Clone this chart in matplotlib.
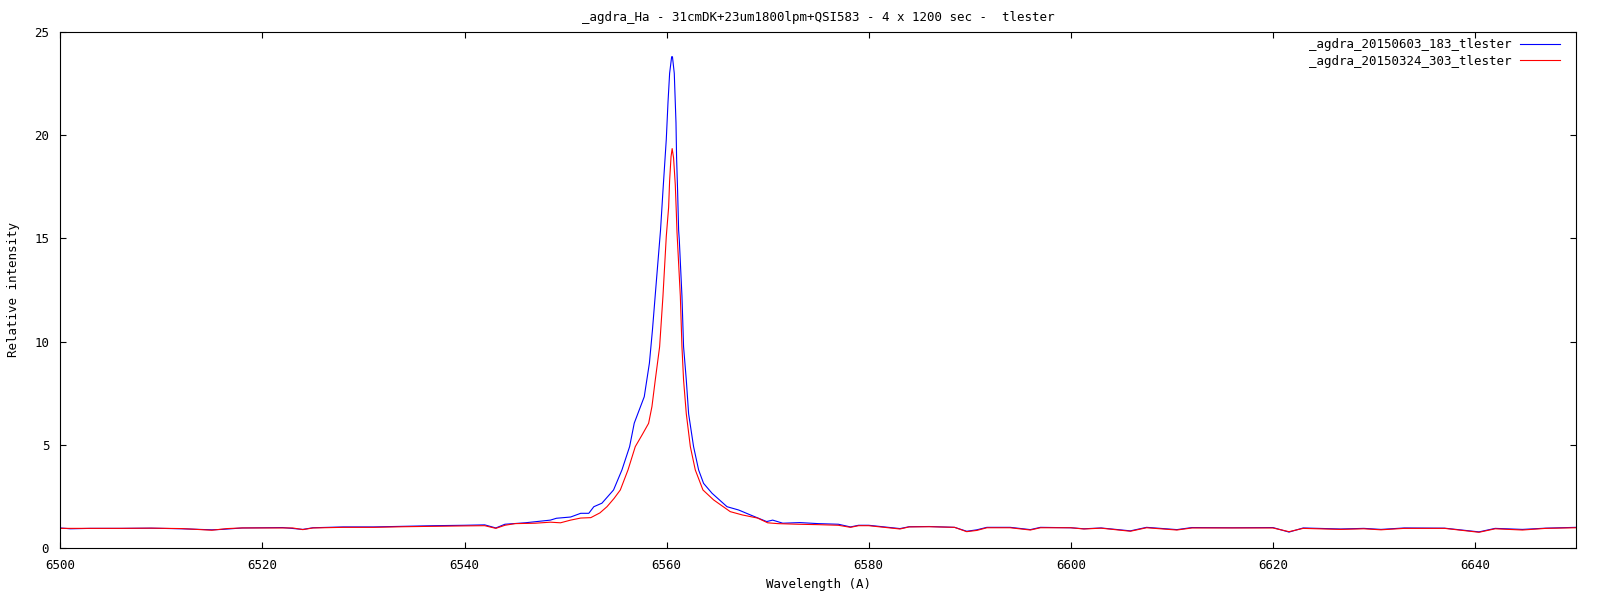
import numpy as np
import matplotlib
matplotlib.use("Agg")
import matplotlib.pyplot as plt

# spectrum 1 (blue) : _agdra_20150603_183_tlester
wl_blue = [6500, 6501, 6503, 6506, 6509, 6512, 6515, 6516, 6518, 6520, 6522, 6524, 6525,
           6528, 6531, 6534, 6537, 6540, 6542, 6543.1, 6544, 6546, 6548.5, 6549.1, 6550.5,
           6551.5, 6552.3, 6552.8, 6553.6, 6554.75, 6555.58, 6556.34, 6556.8, 6557.79,
           6558.3, 6558.6, 6559.0, 6559.4, 6559.64, 6559.97, 6560.14, 6560.30, 6560.5,
           6560.58, 6560.76, 6560.93, 6560.99, 6561.09, 6561.19, 6561.26, 6561.52, 6561.68,
           6561.95, 6562.18, 6562.67, 6563.17, 6563.66, 6564.5, 6565.98, 6567.13, 6568.3,
           6569.9, 6570.5, 6571.5, 6573.2, 6575, 6577, 6578.2, 6579, 6580, 6583.1, 6584,
           6586, 6588.5, 6589.7, 6590.7, 6591.7, 6594, 6596, 6597, 6600, 6601.3, 6603,
           6605.9, 6607.5, 6610.5, 6612, 6616, 6620, 6621.6, 6623, 6626.7, 6629, 6630.7,
           6633, 6637, 6640.4, 6642, 6644.7, 6647, 6650]
flux_blue = [0.97, 0.93, 0.95, 0.95, 0.96, 0.93, 0.88, 0.90, 0.97, 0.98, 0.99, 0.90, 0.98,
             1.02, 1.02, 1.05, 1.08, 1.10, 1.12, 0.97, 1.15, 1.22, 1.35, 1.44, 1.50,
             1.68, 1.68, 2.00, 2.17, 2.81, 3.78, 4.91, 6.05, 7.33,
             8.96, 10.56, 13.0, 15.4, 17.3, 19.8, 21.6, 23.0, 23.8,
             23.8, 23.0, 20.6, 18.9, 17.3, 15.4, 14.9, 12.2, 9.75,
             8.14, 6.5, 4.91, 3.78, 3.13, 2.65, 2.00, 1.84, 1.60,
             1.28, 1.35, 1.20, 1.23, 1.18, 1.15, 1.02, 1.10, 1.10, 0.94, 1.03,
             1.04, 1.00, 0.81, 0.88, 1.00, 1.00, 0.89, 1.00, 0.98, 0.93, 0.97,
             0.83, 1.00, 0.89, 0.99, 0.98, 0.99, 0.77, 0.97, 0.92, 0.95, 0.90,
             0.97, 0.96, 0.78, 0.95, 0.90, 0.96, 1.00]

# spectrum 2 (red) : _agdra_20150324_303_tlester
wl_red = [6500, 6503, 6506, 6509, 6512, 6515, 6516.5, 6518, 6520, 6523, 6524, 6525, 6528,
          6531, 6534, 6537, 6540, 6542, 6543.1, 6544, 6545, 6547, 6548.5, 6549.5, 6550.5,
          6551.5, 6552.5, 6553.4, 6554.1, 6554.8, 6555.42, 6556.18, 6556.9, 6557.6,
          6558.22, 6558.55, 6558.88, 6559.31, 6559.64, 6559.97, 6560.2, 6560.3, 6560.44,
          6560.55, 6560.69, 6560.86, 6560.96, 6561.03, 6561.36, 6561.52, 6561.68, 6561.95,
          6562.35, 6562.84, 6563.6, 6564.65, 6566.3, 6567.5, 6569, 6570, 6571, 6573, 6575,
          6577, 6578.2, 6579, 6580, 6583.1, 6584, 6586, 6588.5, 6589.7, 6590.7, 6591.7,
          6594, 6596, 6597, 6600, 6601.3, 6603, 6605.9, 6607.5, 6610.5, 6612, 6616, 6620,
          6621.6, 6623, 6626.7, 6629, 6630.7, 6633, 6637, 6640.4, 6642, 6644.7, 6647, 6650]
flux_red = [0.95, 0.95, 0.95, 0.96, 0.94, 0.86, 0.94, 0.97, 0.97, 0.97, 0.89, 0.97, 1.00,
            1.00, 1.03, 1.05, 1.07, 1.08, 0.95, 1.10, 1.18, 1.20, 1.25, 1.22, 1.35,
            1.45, 1.47, 1.70, 2.00, 2.40, 2.81, 3.78, 4.91, 5.5,
            6.04, 6.85, 8.14, 9.75, 12.2, 15.1, 16.5, 17.8, 18.96,
            19.35, 18.9, 17.6, 16.3, 15.3, 12.2, 9.75, 8.14, 6.5,
            4.91, 3.78, 2.81, 2.33, 1.76, 1.60, 1.45, 1.22, 1.18, 1.15, 1.13,
            1.10, 1.00, 1.08, 1.08, 0.92, 1.02, 1.03, 1.00, 0.79, 0.85, 0.98,
            0.98, 0.87, 0.98, 0.98, 0.92, 0.96, 0.81, 0.98, 0.87, 0.97, 0.97, 0.97,
            0.79, 0.95, 0.90, 0.93, 0.88, 0.95, 0.95, 0.76, 0.93, 0.87, 0.95, 0.98]

names = ['_agdra_20150603_183_tlester', '_agdra_20150324_303_tlester']
xticks = [6500, 6520, 6540, 6560, 6580, 6600, 6620, 6640]
yticks = [0, 5, 10, 15, 20, 25]

plt.rcParams['font.family'] = "DejaVu Sans Mono"
plt.rcParams['font.size'] = 9

fig = plt.figure(figsize=(16, 6), dpi=100)
ax = fig.add_axes([0.0377, 0.0867, 0.9473, 0.86])

l1, = ax.plot(wl_blue, flux_blue, color='#0000ff', lw=0.8)
l2, = ax.plot(wl_red, flux_red, color='#ff0000', lw=0.8)

ax.set_xlim(6500, 6650)
ax.set_ylim(0, 25)
ax.set_xticks(xticks)
ax.set_yticks(yticks)
ax.tick_params(direction='in', length=4.3, width=0.8, top=True, right=True, pad=8)
for s in ax.spines.values():
    s.set_linewidth(0.8)

ax.set_xlabel("Wavelength (A)", labelpad=4)
ax.set_ylabel("Relative intensity", labelpad=10)
ax.set_title("_agdra_Ha - 31cmDK+23um1800lpm+QSI583 - 4 x 1200 sec -  tlester",
             fontsize=9, pad=8)

# labels start with "_" so pass them explicitly
ax.legend([l1, l2], names, loc='upper right', bbox_to_anchor=(0.9928, 0.998),
          frameon=False, markerfirst=False, handlelength=3.2, handletextpad=0.7,
          labelspacing=0.3, borderaxespad=0)

fig.savefig("out.png", dpi=100)
